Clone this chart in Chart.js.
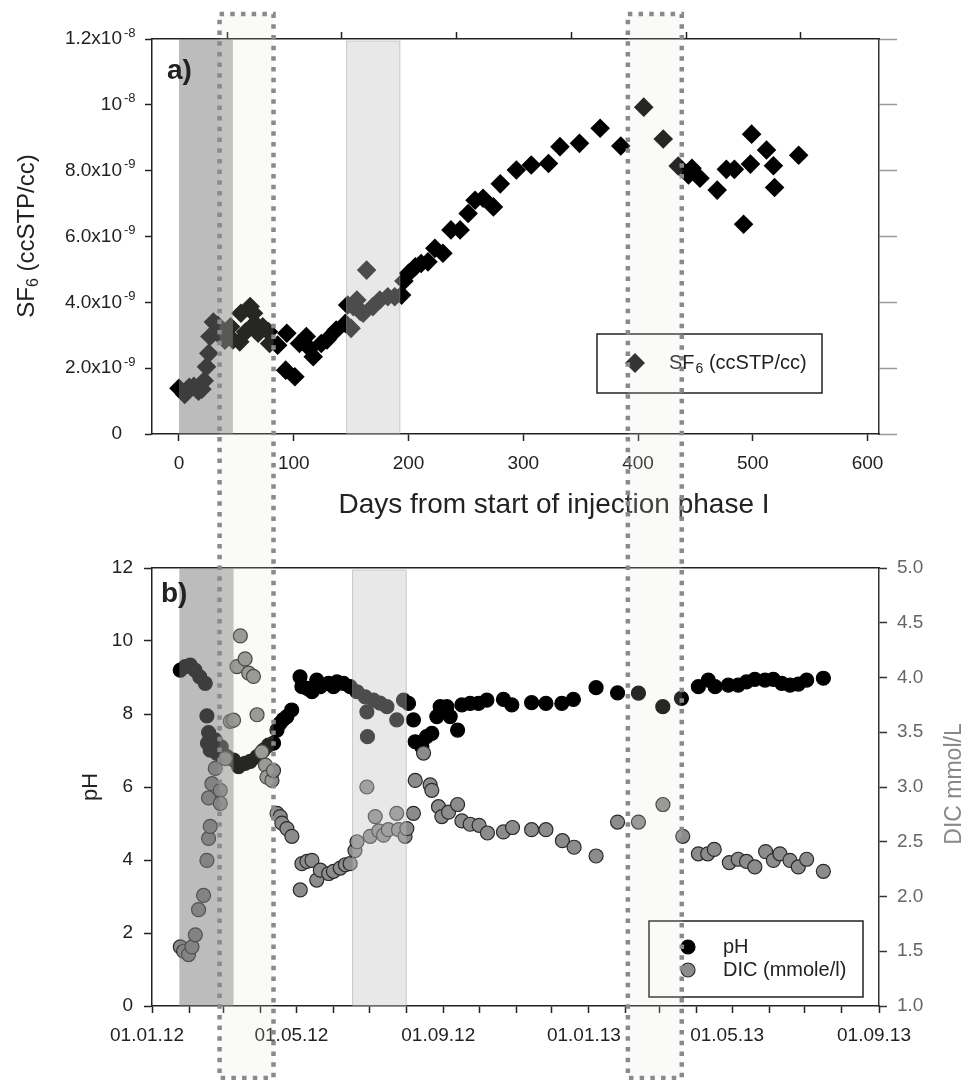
<!DOCTYPE html>
<html>
<head>
<meta charset="utf-8">
<script src="https://cdn.jsdelivr.net/npm/chart.js@4.4.1/dist/chart.umd.min.js"></script>
<style>
body { margin: 0; background: #fff; }
#wrap { position: relative; width: 967px; height: 1080px; }
canvas { position: absolute; left: 0; }
#topChart { top: 0; }
#bottomChart { top: 540px; }
#overlay { top: 0; pointer-events: none; }
</style>
</head>
<body>
<div id="wrap">
<canvas id="topChart" width="967" height="540"></canvas>
<canvas id="bottomChart" width="967" height="540"></canvas>
<canvas id="overlay" width="967" height="1080"></canvas>
</div>
<script>
var FONT = "'Liberation Sans', Arial, Helvetica, sans-serif";

// ---- a) SF6, days from start of injection phase I ----
var sf6Days = [0,5,9,13,17,20,22,24,26,27,30,34,36,40,43,45,47,53,54,58,62,65,66,69,73,78,79,86,93,94,
  101,105,111,114,117,124,129,137,145,147,150,152,155,158,160.5,163.5,169,175,182,188,194,196,200,206,211,217,223,230,237,245,
  252,258,265,274,280,294,307,322,332,349,367,385,405,422,435,444,447,454,469,477,484,492,498,499,512,518,519,540];
// SF6 in 10^-9 ccSTP/cc
var sf6Vals = [1.39,1.2,1.42,1.45,1.3,1.36,1.62,2.04,2.45,2.96,3.4,3.3,3.05,2.85,2.96,3.26,2.86,2.8,3.67,3.1,3.87,3.67,3.36,3.06,3.26,3.11,2.75,2.7,1.94,3.06,
  1.74,2.75,2.96,2.6,2.35,2.75,2.86,3.16,3.36,3.92,3.21,3.87,4.07,3.72,3.67,4.98,3.87,4.07,4.17,4.17,4.22,4.65,4.88,5.08,5.18,5.23,5.64,5.49,6.2,6.2,
  6.7,7.1,7.16,6.9,7.6,8.02,8.17,8.22,8.73,8.83,9.29,8.75,9.93,8.96,8.14,7.87,8.07,7.77,7.41,8.04,8.04,6.37,8.2,9.11,8.63,8.15,7.49,8.47];
var sf6Ticks = [0,2,4,6,8,10,12];
var sf6TickBase = ['0','2.0x10','4.0x10','6.0x10','8.0x10','10','1.2x10'];
var sf6TickExp = ['','-9','-9','-9','-9','-8','-8'];
var dayTicks = [0,100,200,300,400,500,600];
var dayTicksTop = [42,142,242,342,442,542];
var topShade = [[0,47],[146,192.5]];

// ---- b) pH and DIC, days since 01.01.12 ----
var phDays = [23.7,27.9,32,36,40,44.6,46,47.4,46.5,48.8,53,54.4,58,62.8,68.3,72.5,78,82.3,88,93.4,97.6,101.8,104.7,107.4,110,113,117,
  124,125.6,130,134,138,141,147.9,152,155,160.4,166,171.7,178.6,180,180.5,185.5,191,196.8,205,210.7,214.9,219,220.5,226,230,234.4,238.6,
  241.4,247,249.8,256,259.6,266.5,273.5,280.5,294.4,301.4,318,330,343.3,353,372,390,407.5,427.9,443.5,457.7,466,471.7,482.8,491,498,505,
  513.5,520.5,527.5,534.5,541.4,548.4,562.4];
var phVals = [9.2,9.3,9.34,9.2,9.02,8.84,7.95,7.49,7.2,7.01,7.29,6.92,7.1,6.83,6.74,6.56,6.65,6.7,6.83,7.01,7.15,7.2,7.56,7.75,7.85,7.93,8.11,
  9.02,8.75,8.7,8.61,8.93,8.75,8.84,8.75,8.88,8.84,8.75,8.61,8.47,8.06,7.38,8.38,8.3,8.2,7.84,8.38,8.29,7.84,7.24,7.1,7.38,7.47,7.93,
  8.2,8.2,7.93,7.56,8.25,8.29,8.29,8.38,8.4,8.25,8.31,8.29,8.29,8.4,8.72,8.58,8.57,8.2,8.43,8.75,8.93,8.75,8.79,8.79,8.88,8.95,
  8.93,8.95,8.84,8.79,8.82,8.93,8.98];
var dicDays = [23.7,26.5,30.6,33.5,36.3,39,43.2,46,47.4,48.8,47.4,50.2,53,57.2,57.2,61.4,65.6,68.3,71.2,74,78,81,85,88,92,95,96.3,100.5,101.8,
  104.7,107.4,108.8,113,117.2,124.2,125.6,129.8,134,138,141,148,152,157.7,162,166,170,171.7,180,182.8,187,190,194,198,205,206.5,212,213.5,
  219,220.5,227.5,233,234.4,240,242.8,248.4,256,259.6,266.5,274,281,294.4,302,318,330,343.8,353.6,372,390,407.5,428,444.6,457.7,465.5,471,
  483.6,491,498,505,514,520.5,526,534.4,541.4,548.4,562.4];
var dicVals = [1.54,1.5,1.47,1.54,1.65,1.88,2.01,2.33,2.53,2.64,2.9,3.03,3.17,2.97,2.85,3.26,3.6,3.61,4.1,4.38,4.17,4.04,4.01,3.66,3.32,3.2,3.09,3.06,3.15,
  2.76,2.73,2.67,2.62,2.55,2.06,2.3,2.32,2.33,2.15,2.24,2.21,2.23,2.26,2.29,2.3,2.42,2.5,3.0,2.55,2.73,2.6,2.56,2.61,2.76,2.61,2.55,2.62,
  2.76,3.06,3.31,3.02,2.97,2.82,2.73,2.77,2.84,2.69,2.66,2.65,2.58,2.59,2.63,2.61,2.61,2.51,2.45,2.37,2.68,2.68,2.84,2.55,2.39,2.39,2.43,
  2.31,2.34,2.32,2.27,2.41,2.33,2.39,2.33,2.27,2.34,2.23];
var phTicks = [0,2,4,6,8,10,12];
var dicTicks = [1,1.5,2,2.5,3,3.5,4,4.5,5];
var dateLabels = ['01.01.12','01.05.12','01.09.12','01.01.13','01.05.13','01.09.13'];
var bottomShade = [[22.9,68.3],[168,213]];
var markPeriods = [[56.6,101.8],[398.6,443.8]];

var monthTicks = [];
for (var m = 0; m <= 20; m++) {
  monthTicks.push((Date.UTC(2012, m, 1) - Date.UTC(2012, 0, 1)) / 864e5);
}

function pts(xs, ys) {
  return xs.map(function (x, i) { return { x: x, y: ys[i] }; });
}
function setTicks(list) {
  return function (scale) { scale.ticks = list.map(function (v) { return { value: v }; }); };
}
function width(w) { return function (scale) { scale.width = w; }; }
function height(h) { return function (scale) { scale.height = h; }; }

function shade(spans) {
  return {
    id: 'shade',
    afterDatasetsDraw: function (chart) {
      var ctx = chart.ctx, a = chart.chartArea, x = chart.scales.x;
      ctx.save();
      spans.forEach(function (s, i) {
        var x1 = x.getPixelForValue(s[0]), x2 = x.getPixelForValue(s[1]);
        if (i === 0) {
          ctx.fillStyle = 'rgba(121,121,121,0.5)';
          ctx.fillRect(x1, a.top, x2 - x1, a.bottom - a.top);
        } else {
          ctx.fillStyle = 'rgba(196,196,196,0.39)';
          ctx.fillRect(x1, a.top + 2, x2 - x1, a.bottom - a.top - 2);
          ctx.strokeStyle = 'rgba(150,150,150,0.45)';
          ctx.lineWidth = 1;
          ctx.strokeRect(x1, a.top + 2, x2 - x1, a.bottom - a.top - 2);
        }
      });
      ctx.restore();
    }
  };
}

function rotatedText(ctx, parts, cx, cy, color) {
  // parts: [text, size, shift]
  ctx.save();
  ctx.translate(cx, cy);
  ctx.rotate(-Math.PI / 2);
  ctx.fillStyle = color;
  ctx.textBaseline = 'middle';
  ctx.textAlign = 'left';
  var total = 0;
  parts.forEach(function (p) { ctx.font = p[1] + 'px ' + FONT; total += ctx.measureText(p[0]).width; });
  var x = -total / 2;
  parts.forEach(function (p) {
    ctx.font = p[1] + 'px ' + FONT;
    ctx.fillText(p[0], x, p[2]);
    x += ctx.measureText(p[0]).width;
  });
  ctx.restore();
}

var topText = {
  id: 'topText',
  afterDraw: function (chart) {
    var ctx = chart.ctx, y = chart.scales.y;
    ctx.save();
    ctx.fillStyle = '#222';
    ctx.textBaseline = 'middle';
    sf6Ticks.forEach(function (v, i) {
      var py = y.getPixelForValue(v);
      ctx.font = '19px ' + FONT;
      ctx.textAlign = 'right';
      ctx.fillText(sf6TickBase[i], 122, py);
      ctx.font = '13px ' + FONT;
      ctx.textAlign = 'left';
      ctx.fillText(sf6TickExp[i], 124, py - 6);
    });
    ctx.textAlign = 'center';
    ctx.font = '28px ' + FONT;
    ctx.fillText('Days from start of injection phase I', 554, 505);
    ctx.textAlign = 'left';
    ctx.textBaseline = 'alphabetic';
    ctx.font = 'bold 28px ' + FONT;
    ctx.fillText('a)', 167, 79);

    // legend
    ctx.fillStyle = '#fff';
    ctx.fillRect(597, 334, 225, 59);
    ctx.strokeStyle = '#222';
    ctx.lineWidth = 1.5;
    ctx.strokeRect(597, 334, 225, 59);
    ctx.fillStyle = '#111';
    ctx.beginPath();
    ctx.moveTo(625, 363); ctx.lineTo(635, 353); ctx.lineTo(645, 363); ctx.lineTo(635, 373);
    ctx.closePath();
    ctx.fill();
    ctx.fillStyle = '#222';
    ctx.textBaseline = 'middle';
    ctx.font = '20px ' + FONT;
    ctx.fillText('SF', 669, 363);
    var w = ctx.measureText('SF').width;
    ctx.font = '14px ' + FONT;
    ctx.fillText('6', 669 + w + 1, 369);
    var w2 = ctx.measureText('6').width;
    ctx.font = '20px ' + FONT;
    ctx.fillText(' (ccSTP/cc)', 669 + w + w2 + 1, 363);
    ctx.restore();

    rotatedText(ctx, [['SF', 24, 0], ['6', 16, 7], [' (ccSTP/cc)', 24, 0]], 27, 236, '#222');
  }
};

var bottomText = {
  id: 'bottomText',
  afterDraw: function (chart) {
    var ctx = chart.ctx;
    ctx.save();
    ctx.fillStyle = '#222';
    ctx.font = 'bold 28px ' + FONT;
    ctx.textBaseline = 'alphabetic';
    ctx.fillText('b)', 161, 62);

    ctx.fillStyle = '#fff';
    ctx.fillRect(649, 381, 214, 76);
    ctx.strokeStyle = '#222';
    ctx.lineWidth = 1.5;
    ctx.strokeRect(649, 381, 214, 76);
    ctx.lineWidth = 1.2;
    ctx.fillStyle = '#000';
    ctx.strokeStyle = '#000';
    ctx.beginPath(); ctx.arc(688, 407, 7, 0, Math.PI * 2); ctx.fill(); ctx.stroke();
    ctx.fillStyle = '#8c8c8c';
    ctx.strokeStyle = '#2a2a2a';
    ctx.beginPath(); ctx.arc(688, 430, 7, 0, Math.PI * 2); ctx.fill(); ctx.stroke();
    ctx.fillStyle = '#222';
    ctx.font = '20px ' + FONT;
    ctx.textBaseline = 'middle';
    ctx.fillText('pH', 723, 407);
    ctx.fillText('DIC (mmole/l)', 723, 430);
    ctx.restore();

    rotatedText(ctx, [['pH', 22, 0]], 91, 247, '#222');
    rotatedText(ctx, [['DIC mmol/L', 23, 0]], 955, 244, '#888');
  }
};

var axisGrid = { drawOnChartArea: false, drawTicks: true, tickLength: 7, color: '#222', tickWidth: 1.5 };
var axisBorder = { display: true, color: '#222', width: 1.5 };

var topChart = new Chart(document.getElementById('topChart'), {
  type: 'scatter',
  data: {
    datasets: [{
      label: 'SF6 (ccSTP/cc)',
      data: pts(sf6Days, sf6Vals),
      pointStyle: 'rectRot',
      pointRadius: 9.8,
      backgroundColor: '#000',
      borderWidth: 0
    }]
  },
  options: {
    responsive: false,
    animation: false,
    layout: { padding: 0 },
    plugins: { legend: { display: false }, tooltip: { enabled: false } },
    scales: {
      x: {
        type: 'linear', position: 'bottom', min: -23.5, max: 610,
        afterBuildTicks: setTicks(dayTicks), afterFit: height(106),
        grid: axisGrid, border: axisBorder,
        ticks: { autoSkip: false, maxRotation: 0, padding: 11, color: '#222', font: { family: FONT, size: 19 } }
      },
      xTop: {
        type: 'linear', position: 'top', min: -23.5, max: 610,
        afterBuildTicks: setTicks(dayTicksTop), afterFit: height(39),
        grid: axisGrid, border: axisBorder,
        ticks: { display: false }
      },
      y: {
        type: 'linear', position: 'left', min: 0, max: 12,
        afterBuildTicks: setTicks(sf6Ticks), afterFit: width(152),
        grid: axisGrid, border: axisBorder,
        ticks: { display: false }
      },
      yR: {
        type: 'linear', position: 'right', min: 0, max: 12,
        afterBuildTicks: setTicks(sf6Ticks), afterFit: width(88),
        grid: { drawOnChartArea: false, drawTicks: true, tickLength: 18, color: '#999', tickWidth: 1.5 },
        border: { display: true, color: '#333', width: 1.5 },
        ticks: { display: false }
      }
    }
  },
  plugins: [shade(topShade), topText]
});

var bottomChart = new Chart(document.getElementById('bottomChart'), {
  type: 'scatter',
  data: {
    datasets: [{
      label: 'pH',
      data: pts(phDays, phVals),
      yAxisID: 'y',
      order: 1,
      pointRadius: 7,
      backgroundColor: '#000',
      borderColor: '#000',
      borderWidth: 1.2
    }, {
      label: 'DIC (mmole/l)',
      data: pts(dicDays, dicVals),
      yAxisID: 'y2',
      order: 0,
      pointRadius: 7,
      backgroundColor: '#8c8c8c',
      borderColor: '#2a2a2a',
      borderWidth: 1.2
    }]
  },
  options: {
    responsive: false,
    animation: false,
    layout: { padding: 0 },
    plugins: { legend: { display: false }, tooltip: { enabled: false } },
    scales: {
      x: {
        type: 'linear', position: 'bottom', min: 0, max: 609,
        afterBuildTicks: setTicks(monthTicks), afterFit: height(74),
        grid: axisGrid, border: axisBorder,
        ticks: {
          autoSkip: false, maxRotation: 0, padding: 11, labelOffset: -5, color: '#222',
          font: { family: FONT, size: 19 },
          callback: function (v, i) { return i % 4 === 0 ? dateLabels[i / 4] : ''; }
        }
      },
      xTop: {
        type: 'linear', position: 'top', min: 0, max: 609,
        afterBuildTicks: setTicks([0]), afterFit: height(28),
        grid: { display: false, drawTicks: false }, border: axisBorder,
        ticks: { display: false }
      },
      y: {
        type: 'linear', position: 'left', min: 0, max: 12,
        afterBuildTicks: setTicks(phTicks), afterFit: width(152),
        grid: { drawOnChartArea: false, drawTicks: true, tickLength: 8, color: '#222', tickWidth: 1.5 },
        border: axisBorder,
        ticks: { padding: 11, color: '#222', font: { family: FONT, size: 19 } }
      },
      y2: {
        type: 'linear', position: 'right', min: 1, max: 5,
        afterBuildTicks: setTicks(dicTicks), afterFit: width(88),
        grid: { drawOnChartArea: false, drawTicks: true, tickLength: 8, color: '#333', tickWidth: 1.5 },
        border: { display: true, color: '#333', width: 1.5 },
        ticks: { padding: 10, color: '#666', font: { family: FONT, size: 19 },
          callback: function (v) { return v.toFixed(1); } }
      }
    }
  },
  plugins: [shade(bottomShade), bottomText]
});

// dotted boxes spanning both panels, placed on the date axis of panel b
(function () {
  var ctx = document.getElementById('overlay').getContext('2d');
  var xs = bottomChart.scales.x;
  markPeriods.forEach(function (p) {
    var x1 = xs.getPixelForValue(p[0]), x2 = xs.getPixelForValue(p[1]);
    ctx.fillStyle = 'rgba(225,225,220,0.17)';
    ctx.fillRect(x1, 14, x2 - x1, 1064);
    ctx.setLineDash([4.5, 6.2]);
    ctx.lineWidth = 4.5;
    ctx.strokeStyle = '#8a8a8a';
    ctx.strokeRect(x1, 14, x2 - x1, 1064);
  });
})();
</script>
</body>
</html>
